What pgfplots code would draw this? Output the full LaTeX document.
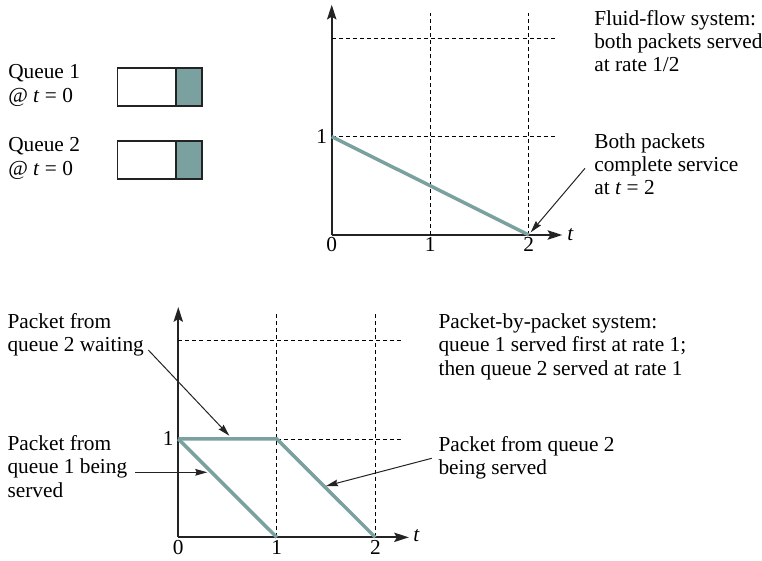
\documentclass[border=0pt]{standalone}
\usepackage{fontspec}
\setmainfont{Liberation Serif}
\usepackage{pgfplots}
\pgfplotsset{compat=1.18}
\usetikzlibrary{arrows.meta}
\definecolor{tealg}{RGB}{122,160,160}
\definecolor{axg}{RGB}{35,35,35}
\newcommand{\myfont}{\fontsize{16}{18}\selectfont}
\begin{document}
\begin{tikzpicture}[x=0.75pt,y=-0.75pt,
  lab/.style={anchor=base west,inner sep=0pt,font=\myfont},
  ann/.style={line width=0.75pt,axg,-{Stealth[length=9pt,width=5pt,inset=1pt]}},
  grd/.style={line width=0.6pt,black,dash pattern=on 3pt off 2.3pt}]
\pgfplotsset{myax/.style={
  anchor=south west, x=73.9pt, y=73.8pt,
  xmin=0, xmax=2.34, ymin=0, ymax=2.34,
  axis lines=left,
  axis line style={line width=1.3pt, axg, -{Stealth[length=11pt,width=7pt,inset=2pt]}},
  xtick={0,1,2}, ytick={1}, major tick length=0pt,
  tick label style={font=\myfont},
  xticklabel style={yshift=1.5pt},
  /pgf/number format/assume math mode=true,
  clip=false,
}}
% ---------- top axis ----------
\begin{axis}[myax, at={(248.8pt,-176.25pt)}]
\draw[grd] (axis cs:0,1) -- (axis cs:2.27,1);
\draw[grd] (axis cs:0,2) -- (axis cs:2.27,2);
\draw[grd] (axis cs:1,0) -- (axis cs:1,2.26);
\draw[grd] (axis cs:2,0) -- (axis cs:2,2.26);
\addplot[tealg, line width=2.6pt, mark=none] coordinates {(0,1) (2,0)};
\end{axis}
% ---------- bottom axis ----------
\begin{axis}[myax, at={(133.7pt,-403pt)}]
\draw[grd] (axis cs:1,1) -- (axis cs:2.28,1);
\draw[grd] (axis cs:0,2) -- (axis cs:2.28,2);
\draw[grd] (axis cs:1,0) -- (axis cs:1,2.28);
\draw[grd] (axis cs:2,0) -- (axis cs:2,2.28);
\addplot[tealg, line width=2.6pt, mark=none] coordinates {(0,1) (1,0)};
\addplot[tealg, line width=2.6pt, mark=none, line join=miter] coordinates {(0,1) (1,1) (2,0)};
\end{axis}
% axis variable labels
\node[lab] at (567,240) {\textit{t}};
\node[lab] at (413,541.5) {\textit{t}};
% queue boxes
\draw[line width=1.2pt, axg] (117.3,67.7) rectangle (175.7,106);
\draw[line width=1.2pt, axg, fill=tealg] (175.7,67.7) rectangle (201.7,106);
\draw[line width=1.2pt, axg] (117.3,140.7) rectangle (175.7,179);
\draw[line width=1.2pt, axg, fill=tealg] (175.7,140.7) rectangle (201.7,179);
% texts
\node[lab] at (8,78.3) {Queue 1};
\node[lab] at (8,102) {@ \textit{t} = 0};
\node[lab] at (8,151.7) {Queue 2};
\node[lab] at (8,175.5) {@ \textit{t} = 0};
\node[lab] at (594,26) {Fluid-flow system:};
\node[lab] at (594,48.5) {both packets served};
\node[lab] at (594,71.5) {at rate 1/2};
\node[lab] at (594,148.7) {Both packets};
\node[lab] at (594,171.5) {complete service};
\node[lab] at (594,194.5) {at \textit{t} = 2};
\node[lab] at (7.3,328.3) {Packet from};
\node[lab] at (7.3,351.7) {queue 2 waiting};
\node[lab] at (7.3,450) {Packet from};
\node[lab] at (7.3,473.3) {queue 1 being};
\node[lab] at (7.3,497.3) {served};
\node[lab] at (438.3,328.3) {Packet-by-packet system:};
\node[lab] at (438.3,351.7) {queue 1 served first at rate 1;};
\node[lab] at (438.3,375.7) {then queue 2 served at rate 1};
\node[lab] at (438.3,451.7) {Packet from queue 2};
\node[lab] at (438.3,474.5) {being served};
% annotation arrows
\draw[ann] (585,168.3) -- (530.7,232.3);
\draw[ann] (148.3,350) -- (229.3,435.7);
\draw[ann] (135,472.3) -- (207.3,472.3);
\draw[ann] (431.7,458.3) -- (326,486);
\pgfresetboundingbox
\path (0,0) rectangle (762,560);
\end{tikzpicture}
\end{document}
